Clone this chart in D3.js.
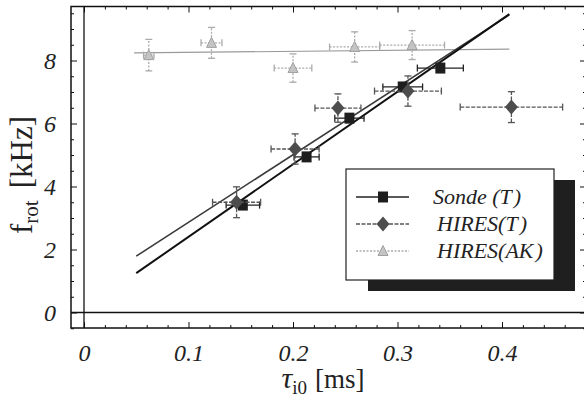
<!DOCTYPE html>
<html>
<head>
<meta charset="utf-8">
<script src="https://cdn.jsdelivr.net/npm/d3@7"></script>
<style>
  body { margin: 0; background: #fff; }
  .tick line { stroke: #111; }
  .domain { display: none; }
</style>
</head>
<body>
<div id="chartDiv"></div>
<script>
// DATA
var xTicks = [0, 0.1, 0.2, 0.3, 0.4];
var yTicks = [0, 2, 4, 6, 8];

// Sonde (T)
var sondeX = [0.152, 0.213, 0.254, 0.305, 0.341];
var sondeY = [3.41, 4.94, 6.17, 7.16, 7.76];
var sondeXErr = [0.016, 0.012, 0.014, 0.019, 0.022];
var sondeYErr = [0.12, 0.12, 0.12, 0.12, 0.12];

// HIRES (T)
var hiresX = [0.146, 0.202, 0.243, 0.310, 0.409];
var hiresY = [3.50, 5.19, 6.49, 7.03, 6.52];
var hiresXErr = [0.023, 0.023, 0.022, 0.032, 0.049];
var hiresYErr = [0.49, 0.48, 0.45, 0.48, 0.49];

// HIRES (AK)
var akX = [0.062, 0.122, 0.200, 0.259, 0.314];
var akY = [8.17, 8.56, 7.76, 8.43, 8.49];
var akXErr = [0.005, 0.010, 0.018, 0.024, 0.031];
var akYErr = [0.50, 0.49, 0.45, 0.48, 0.46];

// fitted lines (end points)
var sondeFit = [[0.050, 1.25], [0.407, 9.47]];
var hiresFit = [[0.050, 1.79], [0.407, 9.45]];
var akFit = [[0.048, 8.24], [0.407, 8.36]];

var legendLabels = ['Sonde', 'HIRES', 'HIRES'];
var legendTags = ['T', 'T', 'AK'];

var SERIF = "'Liberation Serif'";

var w = 584, h = 401,
  fLeft = 71, fRight = 586, fTop = 6.5, fBottom = 328;

var svg = d3.select('#chartDiv')
  .append('svg')
    .attr('width', w)
    .attr('height', h);

svg.append('rect').attr('width', w).attr('height', h).attr('fill', '#fff');

// scales: 0 sits at x=84, y=312.5
var xScale = d3.scaleLinear()
  .domain([(fLeft - 84) / 1045, (fRight - 84) / 1045])
  .range([fLeft, fRight]);
var yScale = d3.scaleLinear()
  .domain([(312.5 - fBottom) / 31.5, (312.5 - fTop) / 31.5])
  .range([fBottom, fTop]);

var xMinor = d3.range(0, 0.48, 0.02).filter(function(d) { return Math.abs(d * 10 - Math.round(d * 10)) > 1e-6; });
var yMinor = d3.range(-0.5, 9.7, 0.5).filter(function(d) { return d % 2 !== 0; });

var fmtX = function(d) { return d === 0 ? '0' : d3.format('.1f')(d); };

// frame ticks, all pointing inward
function frameAxis(axis, transform, values, size, labels) {
  var a = axis.tickValues(values).tickSize(-size).tickPadding(labels ? labels.pad : 0);
  if (labels) { a.tickFormat(labels.fmt); } else { a.tickFormat(''); }
  var g = svg.append('g')
    .attr('transform', transform)
    .call(a)
    .attr('font-family', null).attr('font-size', null);
  g.selectAll('text')
    .style('font-family', SERIF)
    .style('font-style', 'italic')
    .style('font-size', '24px')
    .attr('fill', '#222');
}
frameAxis(d3.axisBottom(xScale), 'translate(0,' + fBottom + ')', xTicks, 6, { pad: 16, fmt: fmtX });
frameAxis(d3.axisBottom(xScale), 'translate(0,' + fBottom + ')', xMinor, 3);
frameAxis(d3.axisTop(xScale), 'translate(0,' + fTop + ')', xTicks, 6);
frameAxis(d3.axisTop(xScale), 'translate(0,' + fTop + ')', xMinor, 3);
frameAxis(d3.axisLeft(yScale), 'translate(' + fLeft + ',0)', yTicks, 6, { pad: 15, fmt: d3.format('d') });
frameAxis(d3.axisLeft(yScale), 'translate(' + fLeft + ',0)', yMinor, 3);
frameAxis(d3.axisRight(yScale), 'translate(' + fRight + ',0)', yTicks, 6);
frameAxis(d3.axisRight(yScale), 'translate(' + fRight + ',0)', yMinor, 3);

// frame
svg.append('rect')
  .attr('x', fLeft).attr('y', fTop)
  .attr('width', fRight - fLeft).attr('height', fBottom - fTop)
  .attr('fill', 'none').attr('stroke', '#111').attr('stroke-width', 1.5);

// zero axes
svg.append('line')
  .attr('x1', xScale(0)).attr('x2', xScale(0))
  .attr('y1', fTop).attr('y2', fBottom)
  .attr('stroke', '#111').attr('stroke-width', 1.3);
svg.append('line')
  .attr('x1', fLeft).attr('x2', fRight)
  .attr('y1', yScale(0)).attr('y2', yScale(0))
  .attr('stroke', '#111').attr('stroke-width', 1.3);

// fits
var line = d3.line()
  .x(function(d) { return xScale(d[0]); })
  .y(function(d) { return yScale(d[1]); });

svg.append('path').datum(akFit).attr('d', line)
  .attr('fill', 'none').attr('stroke', '#9a9a9a').attr('stroke-width', 1.2);
svg.append('path').datum(hiresFit).attr('d', line)
  .attr('fill', 'none').attr('stroke', '#3a3a3a').attr('stroke-width', 1.6);
svg.append('path').datum(sondeFit).attr('d', line)
  .attr('fill', 'none').attr('stroke', '#111').attr('stroke-width', 2);

// marker shapes in px
function marker(kind) {
  if (kind === 'square') { return 'M-5,-5.5H5V5.5H-5Z'; }
  if (kind === 'diamond') { return 'M0,-7.5L6.5,0L0,7.5L-6.5,0Z'; }
  return 'M0,-5.5L5,4.5H-5Z';
}

function series(xs, ys, xe, ye, kind, color, barColor, dash) {
  var pts = xs.map(function(x, i) {
    return { x: x, y: ys[i], xe: xe[i], ye: ye[i] };
  });
  var g = svg.append('g');
  var bars = g.selectAll('.err').data(pts).enter().append('g')
    .attr('stroke', barColor).attr('stroke-width', 1.3)
    .attr('stroke-dasharray', dash);
  bars.append('line')
    .attr('x1', function(d) { return xScale(d.x - d.xe); })
    .attr('x2', function(d) { return xScale(d.x + d.xe); })
    .attr('y1', function(d) { return yScale(d.y); })
    .attr('y2', function(d) { return yScale(d.y); });
  bars.append('line')
    .attr('x1', function(d) { return xScale(d.x); })
    .attr('x2', function(d) { return xScale(d.x); })
    .attr('y1', function(d) { return yScale(d.y - d.ye); })
    .attr('y2', function(d) { return yScale(d.y + d.ye); });
  [-1, 1].forEach(function(s) {
    bars.append('line')
      .attr('stroke-dasharray', 'none')
      .attr('x1', function(d) { return xScale(d.x + s * d.xe); })
      .attr('x2', function(d) { return xScale(d.x + s * d.xe); })
      .attr('y1', function(d) { return yScale(d.y) - 3.5; })
      .attr('y2', function(d) { return yScale(d.y) + 3.5; });
    bars.append('line')
      .attr('stroke-dasharray', 'none')
      .attr('x1', function(d) { return xScale(d.x) - 3.5; })
      .attr('x2', function(d) { return xScale(d.x) + 3.5; })
      .attr('y1', function(d) { return yScale(d.y + s * d.ye); })
      .attr('y2', function(d) { return yScale(d.y + s * d.ye); });
  });
  g.selectAll('.pt').data(pts).enter().append('path')
    .attr('d', marker(kind))
    .attr('transform', function(d) { return 'translate(' + xScale(d.x) + ',' + yScale(d.y) + ')'; })
    .attr('fill', color)
    .attr('stroke', kind === 'triangle' ? '#a0a0a0' : 'none');
}

series(akX, akY, akXErr, akYErr, 'triangle', '#c4c4c4', '#ababab', '2,1.5');
series(sondeX, sondeY, sondeXErr, sondeYErr, 'square', '#1e1e1e', '#222', null);
series(hiresX, hiresY, hiresXErr, hiresYErr, 'diamond', '#4d4d4d', '#555', '4,1.5');

// legend
var lg = svg.append('g');
lg.append('rect').attr('x', 368).attr('y', 180).attr('width', 207).attr('height', 111).attr('fill', '#1f1f1f');
lg.append('rect').attr('x', 346).attr('y', 169).attr('width', 208).attr('height', 111)
  .attr('fill', '#fff').attr('stroke', '#222').attr('stroke-width', 1.2);

var legStyle = [
  { kind: 'square', fill: '#1e1e1e', stroke: '#222', dash: null },
  { kind: 'diamond', fill: '#4d4d4d', stroke: '#555', dash: '4,1.5' },
  { kind: 'triangle', fill: '#c4c4c4', stroke: '#ababab', dash: '2,1.5' }
];
var rowY = [197, 224, 251];
legendLabels.forEach(function(lab, i) {
  var st = legStyle[i];
  lg.append('line').attr('x1', 356).attr('x2', 409).attr('y1', rowY[i]).attr('y2', rowY[i])
    .attr('stroke', st.stroke).attr('stroke-width', 1.5).attr('stroke-dasharray', st.dash);
  lg.append('path').attr('d', marker(st.kind))
    .attr('transform', 'translate(383,' + rowY[i] + ')')
    .attr('fill', st.fill).attr('stroke', st.kind === 'triangle' ? '#a0a0a0' : 'none');
  var t = lg.append('text').attr('x', i === 0 ? 433 : 437).attr('y', rowY[i] + 7)
    .style('font-family', SERIF).style('font-size', '22px').style('font-style', 'italic')
    .attr('fill', '#222');
  t.append('tspan').text(lab + (i === 0 ? ' (' : '('));
  t.append('tspan').text(legendTags[i]);
  t.append('tspan').attr('dx', 2).text(')');
});

// axis titles
var yt = svg.append('text')
  .attr('transform', 'translate(32,175) rotate(-90)')
  .attr('text-anchor', 'middle').attr('fill', '#222')
  .style('font-family', SERIF);
yt.append('tspan').style('font-size', '31px').text('f');
yt.append('tspan').style('font-size', '21px').attr('dy', 6).text('rot');
yt.append('tspan').style('font-size', '31px').attr('dy', -6).attr('dx', 12).text('[kHz]');

var xt = svg.append('text')
  .attr('x', 323).attr('y', 388)
  .attr('text-anchor', 'middle').attr('fill', '#222')
  .style('font-family', SERIF);
xt.append('tspan').style('font-size', '30px').style('font-style', 'italic').text('τ');
xt.append('tspan').style('font-size', '19px').attr('dy', 6).text('i0');
xt.append('tspan').style('font-size', '27px').attr('dy', -6).attr('dx', 8).text('[ms]');
</script>
</body>
</html>
